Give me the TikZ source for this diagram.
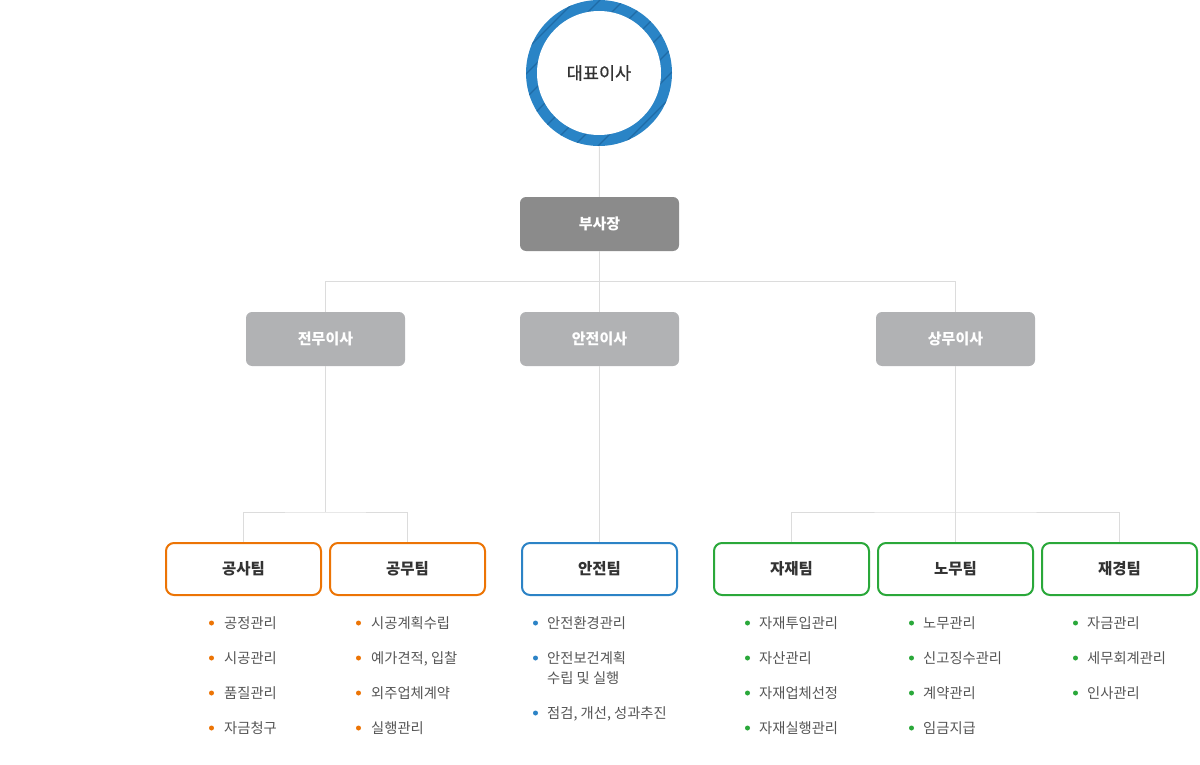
\documentclass[tikz,border=0pt]{standalone}
\usepackage{fontspec}
\setmainfont{Noto Sans CJK KR}
\newfontfamily\ceofont[FakeBold = 0.6]{Noto Sans CJK KR}
\definecolor{ringblue}{HTML}{2A84C6}
\definecolor{stripeblue}{HTML}{1F6BA6}
\definecolor{vicegray}{HTML}{8B8B8B}
\definecolor{dirgray}{HTML}{B1B2B4}
\definecolor{linegray}{HTML}{DCDCDC}
\definecolor{teamorange}{HTML}{EC7405}
\definecolor{teamblue}{HTML}{2C83C6}
\definecolor{teamgreen}{HTML}{2AA83A}
\definecolor{textdark}{HTML}{333333}
\definecolor{textgray}{HTML}{555555}
\begin{document}
\begin{tikzpicture}[x = 1pt, y = -1pt,
    link/.style = {draw = linegray, line width = 1pt},
    head/.style = {fill = #1, rounded corners = 6pt, minimum width = 159pt, minimum height = 54pt,
                   inner sep = 0pt, text = white, font = \fontsize{15}{18}\selectfont\bfseries},
    team/.style = {draw = #1, fill = white, line width = 2pt, rounded corners = 8pt,
                   minimum width = 155pt, minimum height = 52pt, inner sep = 0pt,
                   text = textdark, font = \fontsize{15.5}{18}\selectfont\bfseries},
    item/.style = {anchor = west, inner sep = 0pt, text = textgray, align = left,
                   font = \fontsize{14.3}{20}\selectfont}]
    \useasboundingbox (0, 0) rectangle (1200, 765);

    % ring of the CEO
    \fill [ringblue] (599, 73) circle (73);
    \begin{scope}
        \clip (599, 73) circle (73);
        \foreach \t in {-192, -168, ..., 192}
            \draw [stripeblue, line width = 1.1pt] (519 + \t, 153) -- (679 + \t, -7);
    \end{scope}
    \fill [white] (599, 73) circle (62);
    \node [circle, minimum size = 146pt, inner sep = 0pt, text = textdark,
           font = \fontsize{17.5}{20}\ceofont] (ceo) at (599, 73) {대표이사};

    \node [head = vicegray] (vice) at (599.5, 224) {부사장};
    \node [head = dirgray] (gendir) at (325.5, 339) {전무이사};
    \node [head = dirgray] (safedir) at (599.5, 339) {안전이사};
    \node [head = dirgray] (bizdir) at (955.5, 339) {상무이사};

    \node [team = teamorange] (works) at (243.5, 569) {공사팀};
    \node [team = teamorange] (admin) at (407.5, 569) {공무팀};
    \node [team = teamblue] (safety) at (599.5, 569) {안전팀};
    \node [team = teamgreen] (material) at (791.5, 569) {자재팀};
    \node [team = teamgreen] (labor) at (955.5, 569) {노무팀};
    \node [team = teamgreen] (finance) at (1119.5, 569) {재경팀};

    \coordinate (genbar) at (325.5, 512);
    \coordinate (bizbar) at (955.5, 512);

    \draw [link] (ceo) -- (vice);
    \draw [link] (vice) -- (safedir);
    \draw [link] (gendir.north) -- ++(0, -30) -| (bizdir.north);
    \draw [link] (gendir) -- (genbar);
    \draw [link] (works.north) |- (genbar) -| (admin.north);
    \draw [link] (safedir) -- (safety);
    \draw [link] (bizdir) -- (labor);
    \draw [link] (material.north) |- (bizbar) -| (finance.north);

    % duties
    \node [item] (works1) at (224, 623.5) {공정관리};
    \node [item] (works2) at (224, 658.5) {시공관리};
    \node [item] (works3) at (224, 693.5) {품질관리};
    \node [item] (works4) at (224, 728.5) {자금청구};
    \node [item] (admin1) at (371, 623.5) {시공계획수립};
    \node [item] (admin2) at (371, 658.5) {예가견적, 입찰};
    \node [item] (admin3) at (371, 693.5) {외주업체계약};
    \node [item] (admin4) at (371, 728.5) {실행관리};
    \node [item] (safety1) at (547, 623.5) {안전환경관리};
    \node [item, anchor = north west] (safety2) at (547, 651.5) {안전보건계획\\수립 및 실행};
    \node [item] (safety3) at (547, 713.5) {점검, 개선, 성과추진};
    \node [item] (material1) at (759, 623.5) {자재투입관리};
    \node [item] (material2) at (759, 658.5) {자산관리};
    \node [item] (material3) at (759, 693.5) {자재업체선정};
    \node [item] (material4) at (759, 728.5) {자재실행관리};
    \node [item] (labor1) at (923, 623.5) {노무관리};
    \node [item] (labor2) at (923, 658.5) {신고징수관리};
    \node [item] (labor3) at (923, 693.5) {계약관리};
    \node [item] (labor4) at (923, 728.5) {임금지급};
    \node [item] (finance1) at (1087, 623.5) {자금관리};
    \node [item] (finance2) at (1087, 658.5) {세무회계관리};
    \node [item] (finance3) at (1087, 693.5) {인사관리};

    \foreach \y in {623, 658, 693, 728} {
        \fill [teamorange] (211.5, \y) circle (2.5);
        \fill [teamorange] (358.5, \y) circle (2.5);
        \fill [teamgreen] (747.5, \y) circle (2.5);
        \fill [teamgreen] (911.5, \y) circle (2.5);
    }
    \foreach \y in {623, 658, 713}
        \fill [teamblue] (535.5, \y) circle (2.5);
    \foreach \y in {623, 658, 693}
        \fill [teamgreen] (1075.5, \y) circle (2.5);
\end{tikzpicture}
\end{document}
